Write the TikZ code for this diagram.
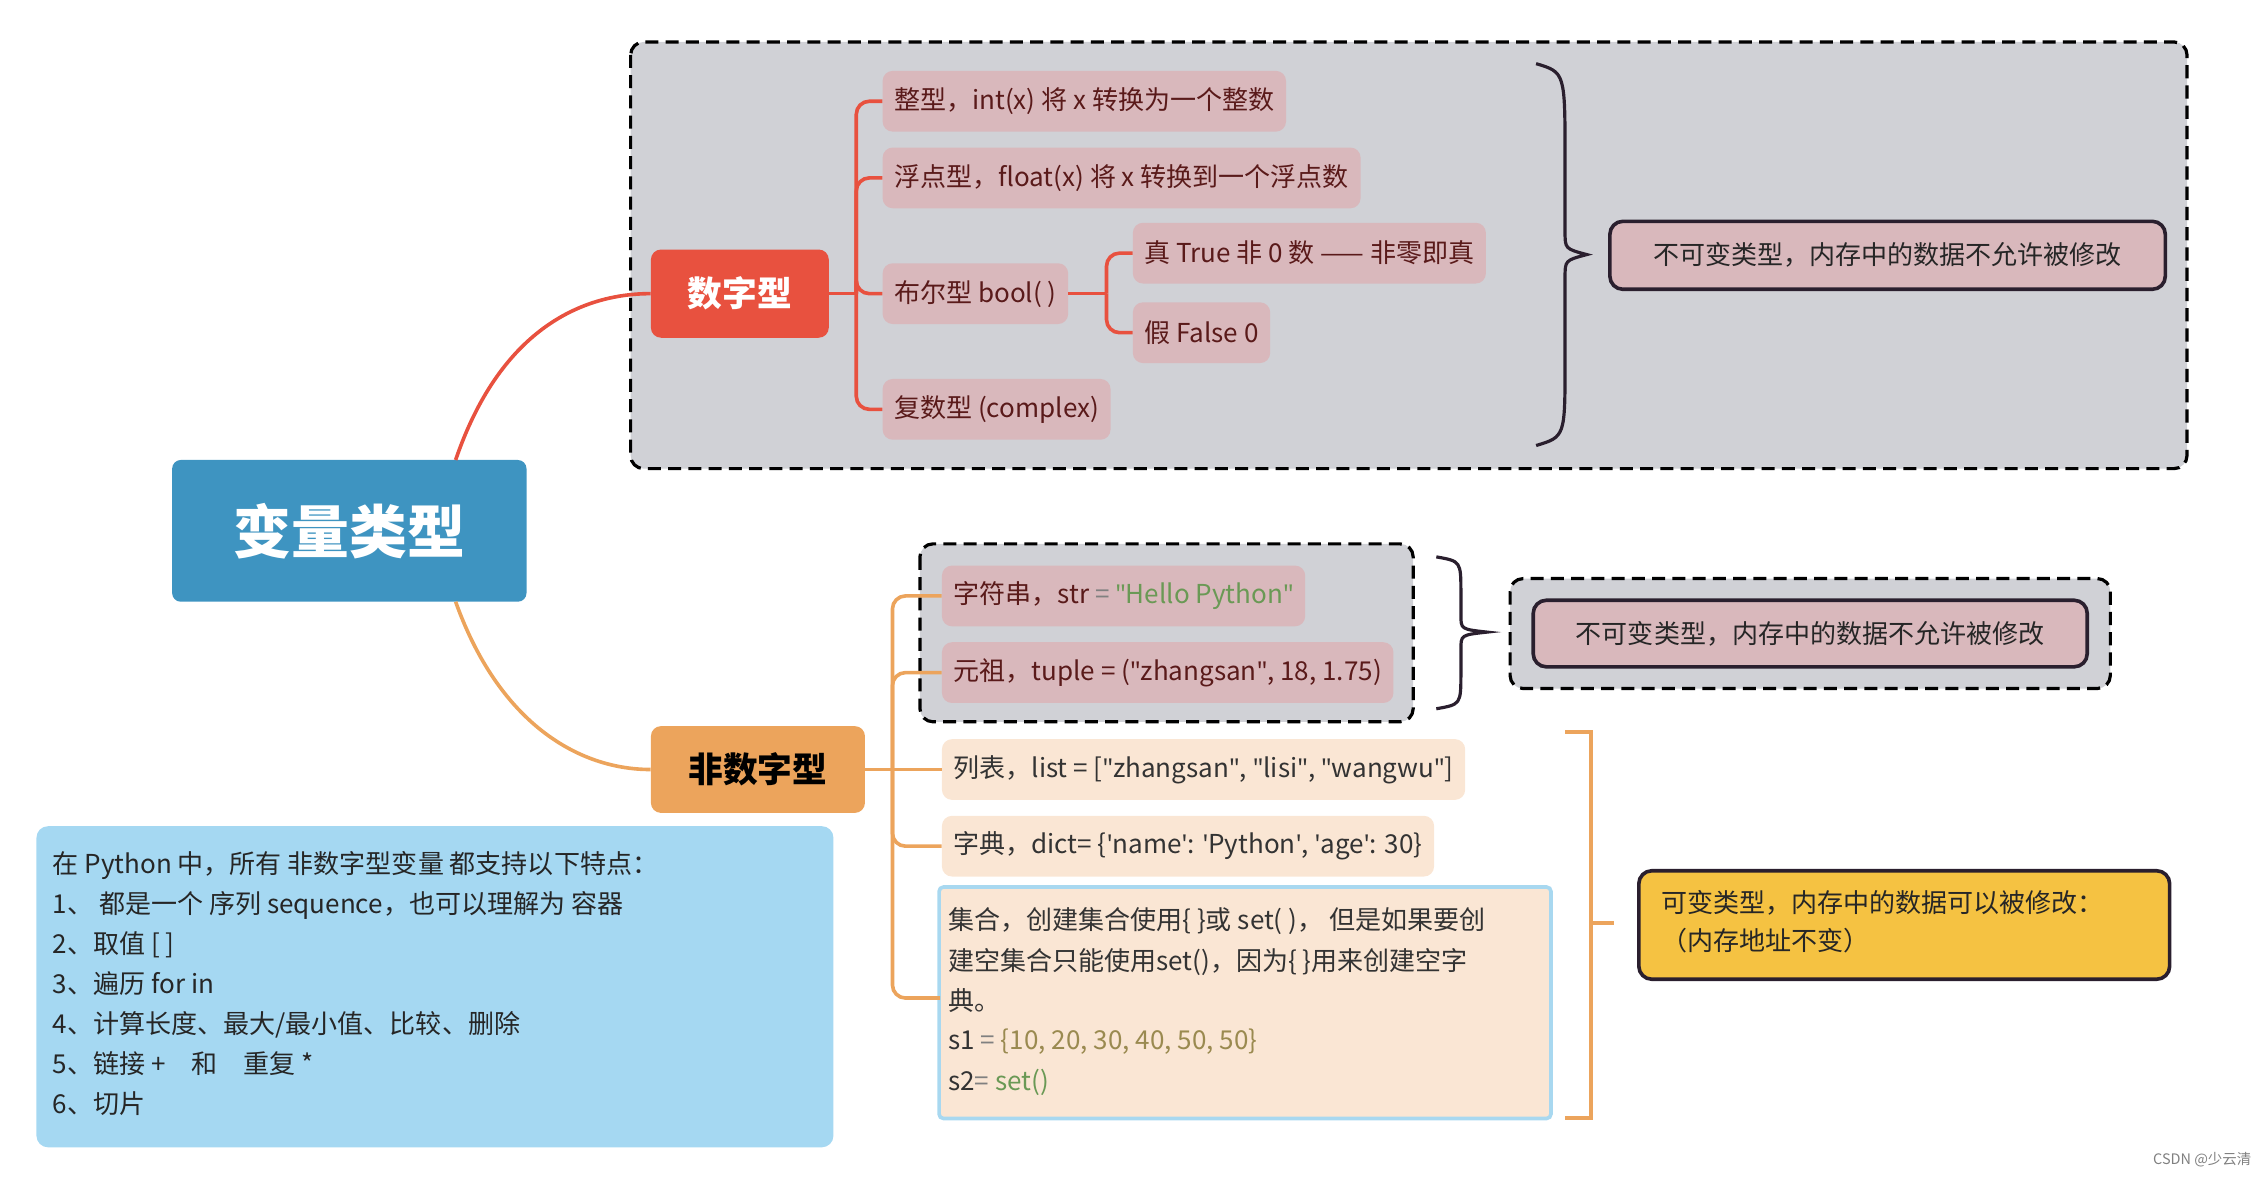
\documentclass[tikz,border=0pt]{standalone}
\usepackage{fontspec}
\setmainfont{Noto Sans CJK SC}
\newfontfamily\latf{Noto Sans}
\usetikzlibrary{positioning}
\newcommand\qd{{\latf\char34}}
\newcommand\qs{{\latf\char39}}
\definecolor{cblue}{HTML}{3E94C1}
\definecolor{cred}{HTML}{E8513F}
\definecolor{corange}{HTML}{ECA45C}
\definecolor{cgrey}{HTML}{D0D1D6}
\definecolor{cpink}{HTML}{D9B8BC}
\definecolor{cdkred}{HTML}{5A1A1A}
\definecolor{cpeach}{HTML}{FAE6D4}
\definecolor{clblue}{HTML}{A8D8F0}
\definecolor{cinfo}{HTML}{A5D8F2}
\definecolor{cyel}{HTML}{F5C242}
\definecolor{cstr}{HTML}{6A9955}
\definecolor{cnum}{HTML}{9A8A50}
\definecolor{cdark}{HTML}{2A1F2E}
\begin{document}
\begin{tikzpicture}[x=1pt,y=-1pt,
 item/.style={fill=cpink,rounded corners=7,text=cdkred,font=\fontsize{18}{22}\selectfont,anchor=west,minimum height=42,inner xsep=8},
 pitem/.style={item,fill=cpeach,text=black!80},
 dbox/.style={draw=black,line width=2.2pt,dash pattern=on 9pt off 5pt,fill=cgrey,rounded corners=9},
 note/.style={draw=cdark,line width=2.5pt,rounded corners=9,font=\fontsize{18}{22}\selectfont,text=black!85},
 rl/.style={draw=cred,line width=2.5pt},
 ol/.style={draw=corange,line width=2.5pt}]
\useasboundingbox (0,0) rectangle (1568,814.5);
% top group
\draw[dbox] (436,29) rectangle (1512,324);
\node[fill=cblue,rounded corners=6,minimum width=245,minimum height=98,text=white,font=\fontsize{40}{44}\selectfont\bfseries] (root) at (241.5,367) {变量类型};
\node[fill=cred,rounded corners=7,minimum width=123,minimum height=61,text=white,font=\fontsize{24}{28}\selectfont\bfseries] (num) at (511.5,203) {数字型};
\draw[rl] (315,318) .. controls (345,230) and (400,203) .. (num.west);
\node[item] (i1) at (610,70) {整型，int(x) 将 x 转换为一个整数};
\node[item] (i2) at (610,123) {浮点型，float(x) 将 x 转换到一个浮点数};
\node[item] (i3) at (610,203) {布尔型 bool( )};
\node[item] (i4) at (610,283) {复数型 (complex)};
\node[item] (i5) at (783,175) {真 True 非 0 数 —— 非零即真};
\node[item] (i6) at (783,230) {假 False 0};
\draw[rl] (num.east) -- (592,203) coordinate (j1);
\foreach \n in {i1,i2,i3,i4} \draw[rl,rounded corners=9] (j1) |- (\n.west);
\draw[rl] (i3.east) -- (765,203) coordinate (j2);
\foreach \n in {i5,i6} \draw[rl,rounded corners=9] (j2) |- (\n.west);
\draw[line width=2.2pt,cdark] (1062,44) .. controls (1082,50) .. (1082,110) -- (1082,160) .. controls (1082,172) .. (1097,176) .. controls (1082,180) .. (1082,192) -- (1082,250) .. controls (1082,302) .. (1062,308);
\node[note,fill=cpink,minimum width=384,minimum height=47] (n1) at (1305,176.5) {不可变类型，内存中的数据不允许被修改};
% bottom group
\node[fill=corange,rounded corners=7,minimum width=148,minimum height=60,text=black,font=\fontsize{24}{28}\selectfont\bfseries] (non) at (524,532) {非数字型};
\draw[ol] (315,416) .. controls (345,500) and (400,532) .. (non.west);
\draw[dbox] (636,376) rectangle (977,499);
\node[item] (s1) at (651,412) {字符串，str \textcolor{gray}{=} \textcolor{cstr}{\qd Hello Python\qd}};
\node[item] (s2) at (651,465) {元祖，tuple = (\qd zhangsan\qd, 18, 1.75)};
\draw[line width=2.2pt,cdark] (993,385) .. controls (1010,388) .. (1010,410) -- (1010,425) .. controls (1010,435) .. (1028,437) .. controls (1010,439) .. (1010,449) -- (1010,465) .. controls (1010,487) .. (993,490);
\draw[dbox] (1044,400) rectangle (1459,476);
\node[note,fill=cpink,minimum width=383,minimum height=46] (n2) at (1251.5,438) {不可变类型，内存中的数据不允许被修改};
\node[pitem] (l1) at (651,532) {列表，list = [\qd zhangsan\qd, \qd lisi\qd, \qd wangwu\qd]};
\node[pitem] (l2) at (651,585) {字典，dict= \{\qs name\qs: \qs Python\qs, \qs age\qs: 30\}};
\node[draw=clblue,line width=2.5pt,fill=cpeach,rounded corners=3,minimum width=423,minimum height=160,anchor=north west,inner sep=0] (l3) at (648,612) {};
\begin{scope}[font=\fontsize{18}{22}\selectfont,text=black!80]
\node[anchor=west] at (652,637) {集合，创建集合使用\{ \}或 set( )， 但是如果要创};
\node[anchor=west] at (652,665) {建空集合只能使用set()，因为\{ \}用来创建空字};
\node[anchor=west] at (652,692) {典。};
\node[anchor=west] at (652,720) {s1 \textcolor{gray}{=} \textcolor{cnum}{\{10, 20, 30, 40, 50, 50\}}};
\node[anchor=west] at (652,748) {s2\textcolor{gray}{=} \textcolor{cstr}{set()}};
\end{scope}
\draw[ol] (non.east) -- (617,532) coordinate (j3);
\draw[ol,rounded corners=9] (j3) |- (s1.west);
\draw[ol,rounded corners=9] (j3) |- (s2.west);
\draw[ol,rounded corners=9] (j3) |- (l2.west);
\draw[ol,rounded corners=9] (j3) |- (650,690);
\draw[ol] (non.east) -- (l1.west);
\draw[ol] (1082,506) -- (1100,506) -- (1100,773) -- (1082,773) (1100,638) -- (1116,638);
\node[note,fill=cyel,minimum width=367,minimum height=75] (n3) at (1316.5,639.5) {};
\node[anchor=north west,align=left,font=\fontsize{18}{26}\selectfont,text=black!85] at (1145,612) {可变类型，内存中的数据可以被修改：\\（内存地址不变）};
% info
\node[fill=cinfo,rounded corners=8,minimum width=551,minimum height=222,anchor=north west] (info) at (25,571) {};
\node[anchor=north west,align=left,font=\fontsize{18}{27.7}\selectfont,text=black!85] at (33,585) {在 Python 中，所有 非数字型变量 都支持以下特点：\\1、 都是一个 序列 sequence，也可以理解为 容器\\2、取值 [ ]\\3、遍历 for in\\4、计算长度、最大/最小值、比较、删除\\5、链接 +\quad 和\quad 重复 *\\6、切片};
\node[anchor=east,font=\fontsize{10}{12}\selectfont,text=gray] (wm) at (1560,802) {CSDN @少云清};
\end{tikzpicture}
\end{document}
